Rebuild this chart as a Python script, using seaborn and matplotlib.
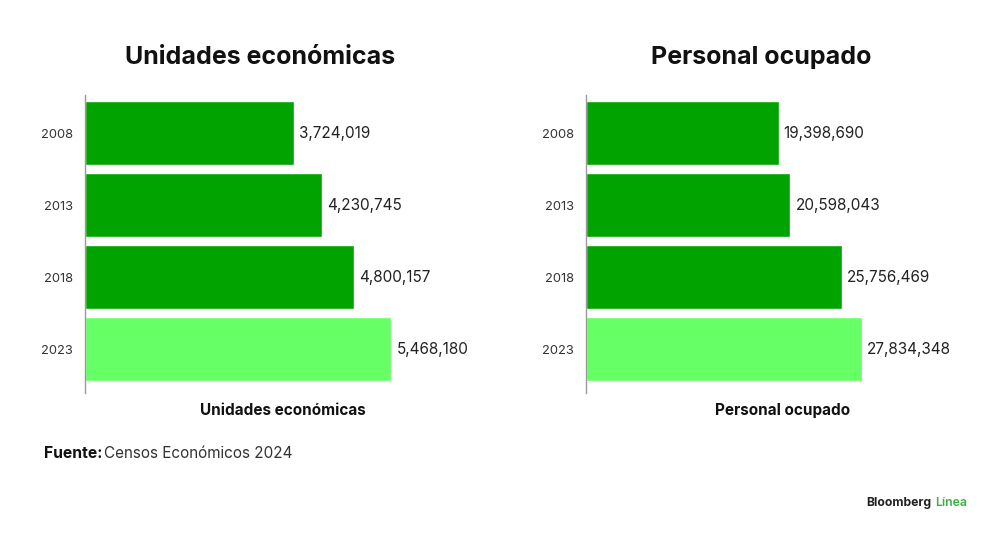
import matplotlib
matplotlib.use("Agg")
import matplotlib.pyplot as plt
import seaborn as sns
import pandas as pd

# Data
years = ["2008", "2013", "2018", "2023"]
unidades = [3724019, 4230745, 4800157, 5468180]
personal = [19398690, 20598043, 25756469, 27834348]
bar_colors = ["#00a300", "#00a300", "#00a300", "#66ff66"]

sns.set_style("white")
plt.rcParams["font.family"] = ["Inter", "DejaVu Sans"]

fig = plt.figure(figsize=(10, 5.35), dpi=100)
fig.patch.set_facecolor("white")

panels = [
    ("Unidades económicas", unidades, [0.085, 0.2654, 0.395, 0.557], 7.05e6, 0.26),
    ("Personal ocupado", personal, [0.586, 0.2654, 0.394, 0.557], 39.7e6, 0.761),
]

for name, values, rect, xmax, title_x in panels:
    ax = fig.add_axes(rect)
    df = pd.DataFrame({"year": years, "value": values})
    sns.barplot(data=df, x="value", y="year", hue="year", palette=bar_colors,
                orient="h", width=0.89, legend=False, ax=ax, saturation=1)
    ax.set_xlim(0, xmax)
    ax.set_ylim(3.611, -0.528)
    for i, v in enumerate(values):
        ax.text(v + xmax * 0.013, i, f"{v:,}", va="center", ha="left",
                fontsize=11, color="#222222")
    sns.despine(ax=ax, top=True, right=True, bottom=True)
    ax.spines["left"].set_color("#9a9a9a")
    ax.spines["left"].set_linewidth(1)
    ax.set_xticks([])
    ax.tick_params(axis="y", length=0, labelsize=9.3, labelcolor="#333333", pad=8.5)
    ax.set_ylabel("")
    ax.set_xlabel(name, fontsize=11, fontweight="bold", color="#111111", labelpad=7)
    fig.text(title_x, 0.892, name, ha="center", va="center", fontsize=18,
             fontweight="bold", color="#111111")

fig.text(0.044, 0.153, "Fuente:", fontsize=11.3, fontweight="bold", color="#111111",
         va="center")
fig.text(0.104, 0.153, "Censos Económicos 2024", fontsize=11, color="#333333",
         va="center")

fig.text(0.866, 0.06, "Bloomberg", fontsize=8.8, fontweight="bold", color="#222222",
         va="center")
fig.text(0.935, 0.06, "Línea", fontsize=8.8, fontweight="semibold", color="#3cb043",
         va="center")

fig.savefig("out.png", dpi=100, facecolor="white")
